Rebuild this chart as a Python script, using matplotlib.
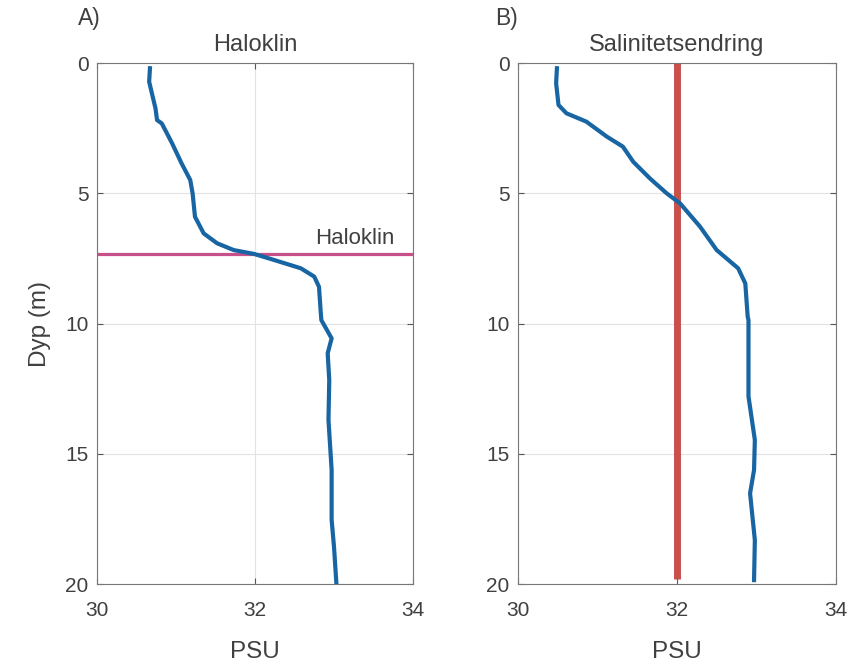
import numpy as np
import matplotlib
matplotlib.use("Agg")
import matplotlib.pyplot as plt

# Profile A: salinity (PSU) vs depth (m)
depth_a = [0.2, 0.72, 1.74, 2.19, 2.32, 3.08, 3.85, 4.49, 5.0, 5.9, 6.54,
           6.92, 7.18, 7.33, 7.56, 7.88, 8.2, 8.59, 9.48, 9.87, 10.57,
           11.14, 12.17, 13.7, 15.62, 17.54, 18.57, 19.97]
psu_a = [30.67, 30.66, 30.74, 30.76, 30.82, 30.95, 31.07, 31.18, 31.21,
         31.24, 31.35, 31.52, 31.73, 31.99, 32.24, 32.58, 32.75, 32.81,
         32.83, 32.84, 32.97, 32.92, 32.94, 32.93, 32.97, 32.97, 33.0, 33.03]

# Profile B
depth_b = [0.2, 0.78, 1.61, 1.93, 2.25, 2.83, 3.21, 3.79, 4.43, 5.0, 5.39,
           6.28, 7.18, 7.88, 8.46, 9.74, 9.87, 12.8, 14.47, 15.62, 16.52,
           18.31, 19.85]
psu_b = [30.49, 30.48, 30.51, 30.61, 30.86, 31.12, 31.32, 31.45, 31.66,
         31.87, 32.04, 32.29, 32.50, 32.77, 32.86, 32.89, 32.9, 32.9, 32.98,
         32.97, 32.92, 32.98, 32.97]

halocline_depth = 7.33
ref_salinity = 32.0

txt = '#404040'
plt.rcParams['font.family'] = ['Liberation Sans', 'DejaVu Sans']

fig = plt.figure(figsize=(8.64, 6.62), dpi=100)
ax1 = fig.add_axes([0.1123, 0.1178, 0.3657, 0.787])
ax2 = fig.add_axes([0.5995, 0.1178, 0.368, 0.787])


def style(ax, title):
    ax.set_xlim(30, 34)
    ax.set_ylim(20, 0)
    ax.set_xticks([30, 32, 34])
    ax.set_yticks([0, 5, 10, 15, 20])
    ax.grid(True, color='#e2e2e2', linewidth=0.8)
    ax.set_axisbelow(True)
    ax.tick_params(direction='in', top=True, right=True, colors='#555555',
                   labelcolor=txt, labelsize=15, length=4)
    ax.tick_params(axis='x', pad=12)
    ax.tick_params(axis='y', pad=6)
    for s in ax.spines.values():
        s.set_color('#777777')
        s.set_linewidth(0.8)
    ax.set_title(title, color=txt, fontsize=17, pad=9)
    ax.set_xlabel('PSU', color=txt, fontsize=17.5, labelpad=15)


ax1.plot(psu_a, depth_a, color='#1865a4', linewidth=3, zorder=3)
ax1.axhline(halocline_depth, color='#c8508a', linewidth=2.3, zorder=2)
ax1.text(33.76, halocline_depth - 0.2, 'Haloklin', color=txt, fontsize=16,
         ha='right', va='bottom')
style(ax1, 'Haloklin')
ax1.set_ylabel('Dyp (m)', color=txt, fontsize=17.5, labelpad=10)

ax2.plot([ref_salinity, ref_salinity], [0, 19.8], color='#c8504d',
         linewidth=5, solid_capstyle='butt', zorder=2)
ax2.plot(psu_b, depth_b, color='#1865a4', linewidth=3, zorder=3)
style(ax2, 'Salinitetsendring')

fig.text(78 / 864, 1 - 18 / 662, 'A)', color=txt, fontsize=16.5,
         ha='left', va='center')
fig.text(495 / 864, 1 - 18 / 662, 'B)', color=txt, fontsize=16.5,
         ha='left', va='center')

fig.savefig('out.png', dpi=100)
